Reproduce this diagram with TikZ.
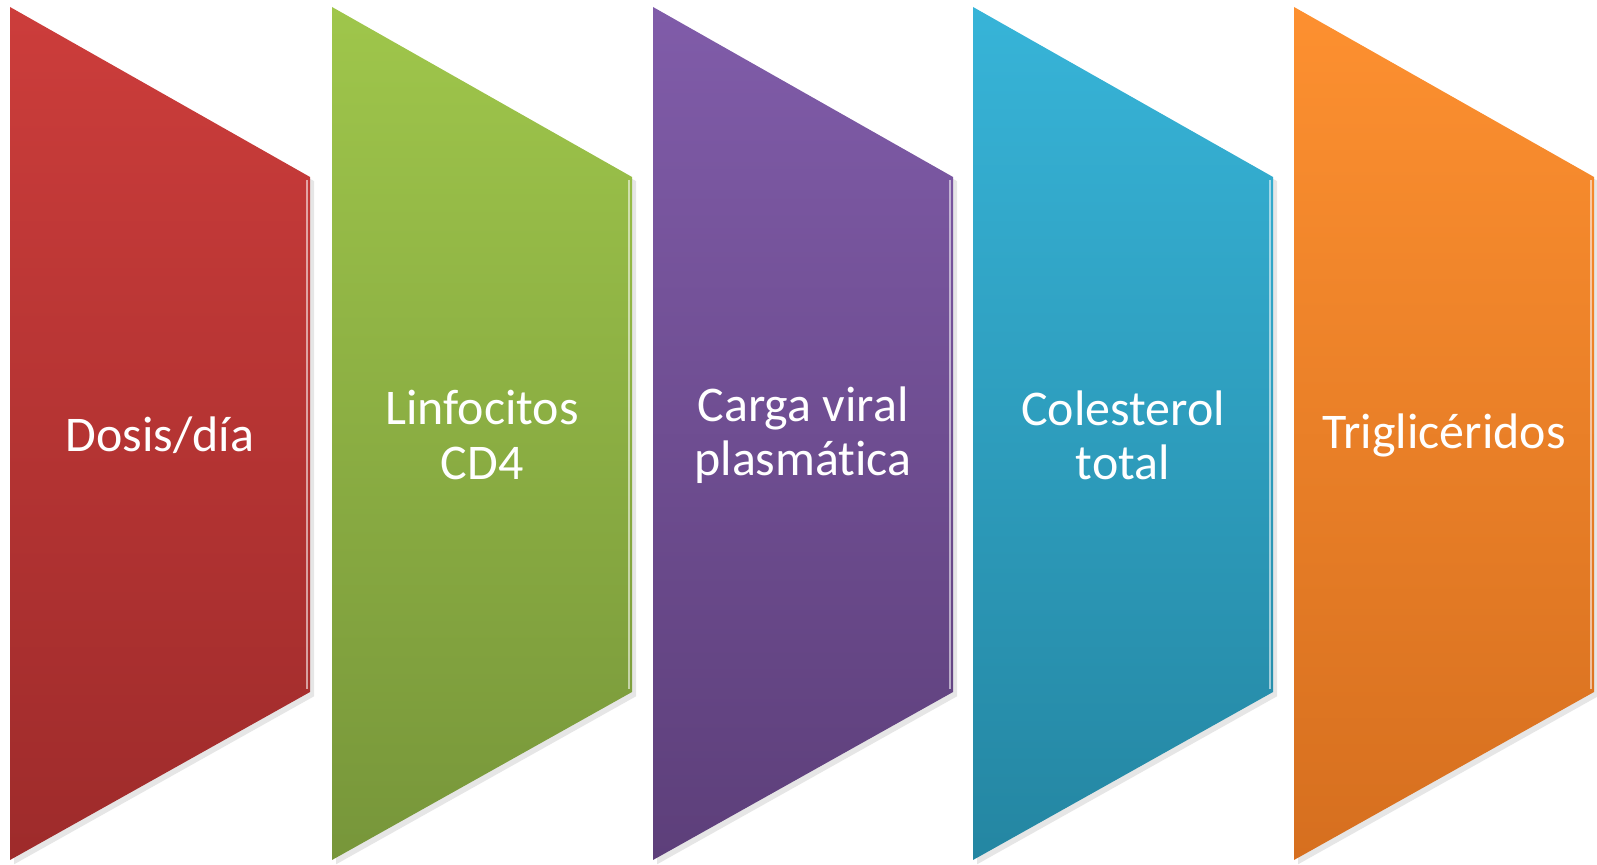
\documentclass[tikz,border=0pt]{standalone}
\usepackage{fontspec}
\setmainfont{Carlito}[RawFeature={-liga;-clig;-calt}]
\usetikzlibrary{shadows}
\definecolor{dosisTop}{HTML}{CC3D3B}
\definecolor{dosisBot}{HTML}{9E2B2B}
\definecolor{cdTop}{HTML}{9FC64B}
\definecolor{cdBot}{HTML}{77963A}
\definecolor{cargaTop}{HTML}{805CA9}
\definecolor{cargaBot}{HTML}{5D3F7A}
\definecolor{colTop}{HTML}{37B4D8}
\definecolor{colBot}{HTML}{2486A2}
\definecolor{triTop}{HTML}{FD9030}
\definecolor{triBot}{HTML}{D66F1F}

\begin{document}
\begin{tikzpicture}[x=0.01cm, y=-0.01cm,
    chevron/.style={drop shadow={shadow xshift=1.2pt, shadow yshift=-1.2pt, opacity=0.2}},
    bevel/.style={white, opacity=0.55, line width=0.8pt},
    label/.style={text=white, align=center, font=\fontsize{14.2}{15.4}\selectfont}]
    \useasboundingbox (0,0) rectangle (1597,865);
    \foreach \n/\x/\ctop/\cbot/\txt in {
        dosis/10/dosisTop/dosisBot/{Dosis/día},
        linfo/332/cdTop/cdBot/{Linfocitos\\CD4},
        carga/653/cargaTop/cargaBot/{Carga viral\\plasmática},
        coles/973/colTop/colBot/{Colesterol\\total},
        trigl/1294/triTop/triBot/{Triglicéridos}}
    {
        \shade[chevron, top color=\ctop, bottom color=\cbot]
            (\x,7) -- ++(300,170) -- ++(0,515) -- ++(-300,168) -- cycle;
        \draw[bevel] (\x+297,180) -- (\x+297,689);
        \node[label] (\n) at (\x+150,435) {\txt};
    }
\end{tikzpicture}
\end{document}
